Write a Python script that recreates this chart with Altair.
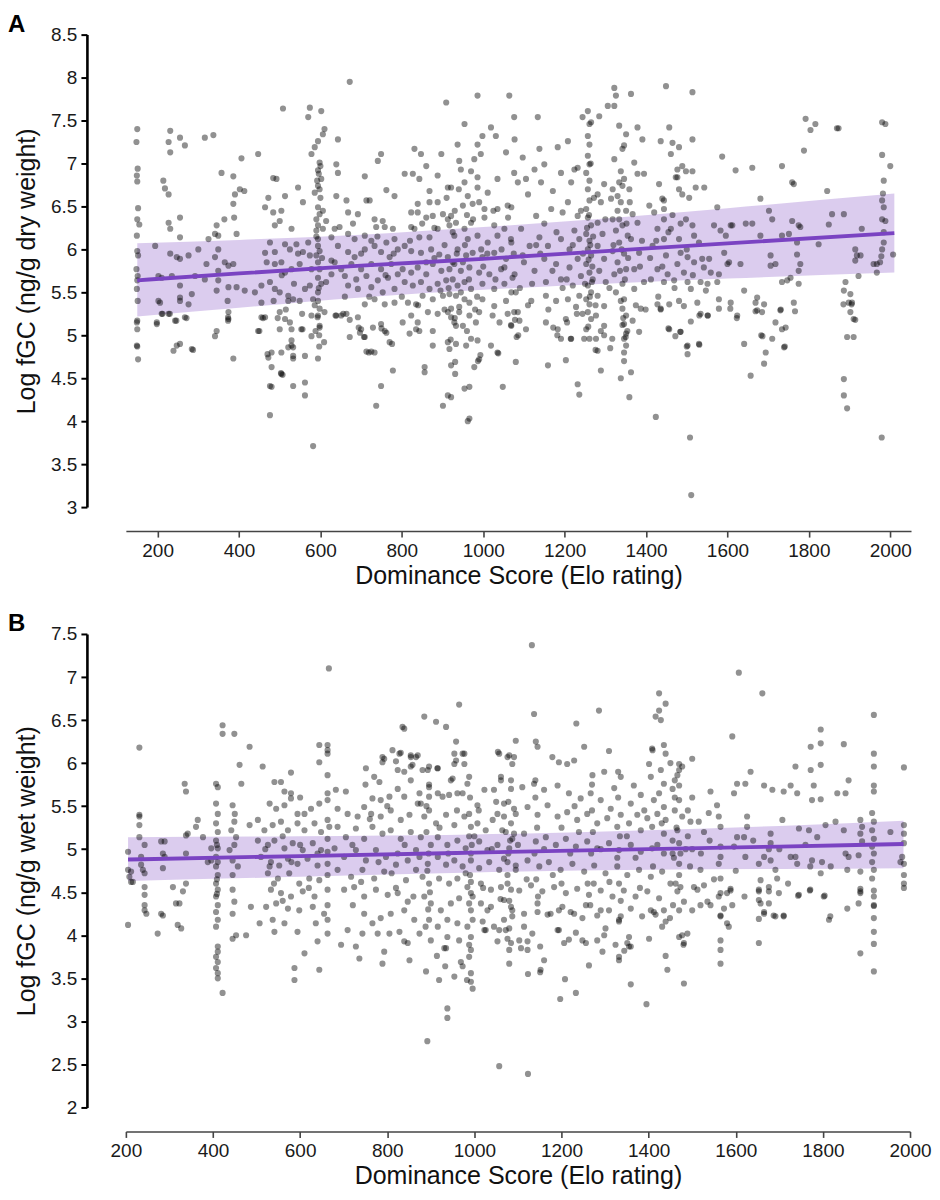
import altair as alt
import pandas as pd

FONT = "Liberation Sans, Arial, sans-serif"
PURPLE = "#7a43c2"

# ---------------- Panel A: dry weight ----------------
panel_a_points = [
    (150,7.40),(148,7.25),(151,6.94),(149,6.86),(150,6.79),(152,6.48),(150,6.35),(155,6.29),(149,6.16),(150,5.98),
    (152,5.93),(148,5.77),(151,5.69),(150,5.64),(149,5.54),(151,5.40),(150,5.17),(149,5.15),(150,5.07),(150,4.87),
    (149,4.88),(152,4.72),
    (194,6.04),(202,5.69),(202,5.40),(206,5.38),(198,5.15),(210,5.25),(214,6.80),(218,6.71),(227,6.64),(231,7.38),
    (227,7.25),(231,7.13),(255,7.30),(267,7.21),(227,6.31),(231,6.24),(255,6.37),(255,6.14),(255,5.89),(247,5.91),
    (235,5.69),(255,5.58),(255,5.44),(255,5.40),(276,5.93),(276,5.36),(284,5.48),(267,5.21),(243,5.17),(231,5.95),
    (227,5.25),(247,4.88),(255,4.90),(284,4.84),(239,4.82),(210,5.67),(198,5.13),(212,5.25),(230,5.25),(246,5.17),
    (271,5.20),(287,4.83),
    (316,7.30),(337,7.33),(357,6.89),(386,6.85),(406,7.06),(402,6.70),(413,6.68),(390,6.64),(386,6.53),(388,6.37),
    (364,6.35),(345,6.28),(341,6.18),(349,6.16),(394,6.18),(325,6.12),(349,6.00),(341,5.91),(365,5.85),(374,5.81),
    (386,5.83),(349,5.75),(349,5.64),(374,5.56),(394,5.56),(372,5.40),(374,5.27),(374,5.19),(414,5.52),(345,5.52),
    (341,4.99),(345,5.05),(386,4.73),(316,5.65),(320,5.83),(292,5.69),(300,6.00),(447,7.11),(439,5.50),(455,5.38),
    (447,5.05),(455,5.21),(464,5.21),(492,6.82),(373,5.21),(373,5.17),(450,5.05),(459,5.20),
    (464,6.49),(472,6.60),(484,6.43),(488,6.28),(504,6.45),(500,6.33),(513,6.62),(545,6.72),(557,6.55),(529,6.24),
    (476,6.08),(464,5.96),(488,5.97),(513,6.06),(541,6.06),(557,5.97),(468,5.85),(488,5.83),(504,5.85),(513,5.73),
    (529,5.77),(549,5.83),(455,5.58),(476,5.62),(488,5.54),(500,5.50),(521,5.46),(521,5.40),(533,5.42),(549,5.40),
    (562,5.54),(500,5.27),(513,5.19),(525,5.15),(529,5.07),(500,5.07),(553,5.07),(529,4.94),(529,4.88),(521,4.86),
    (533,4.76),(504,4.80),(480,4.80),(562,4.76),(472,4.74),(480,4.63),(504,4.55),(476,4.41),(480,4.40),(533,4.41),
    (562,4.45),(562,4.30),(476,4.07),(508,7.64),(484,6.83),(470,4.78),(503,4.56),(507,4.54),(533,4.73),(533,4.86),
    (556,5.07),
    (574,7.65),(602,7.61),(570,7.54),(610,7.40),(606,7.34),(594,7.26),(586,7.19),(578,7.11),(598,7.01),(594,6.92),
    (602,6.82),(594,6.74),(598,6.70),(586,6.66),(594,6.49),(598,6.41),(590,6.35),(594,6.28),(590,6.22),(594,6.12),
    (594,6.04),(598,5.98),(590,5.93),(594,5.85),(598,5.77),(594,5.67),(602,5.60),(594,5.50),(594,5.40),(598,5.31),
    (594,5.23),(598,5.11),(578,4.99),(594,4.73),(606,6.24),(614,6.33),(570,6.08),(574,5.93),(578,5.77),(574,5.58),
    (582,5.42),(578,5.23),(614,5.62),(610,5.27),(627,6.14),(627,5.87),(627,5.71),(582,3.71),(597,4.87),(597,5.00),
    (598,5.09),(593,5.21),(609,4.92),(600,6.97),(596,6.88),
    (643,7.28),(639,6.99),(643,6.89),(639,6.62),(664,6.57),(668,6.43),(709,6.85),(749,7.11),(741,7.03),(713,6.57),
    (721,6.57),(762,6.69),(782,6.62),(692,6.41),(733,6.35),(753,6.33),(737,6.26),(758,6.26),(778,6.24),(647,6.26),
    (668,6.18),(684,6.12),(709,6.16),(725,6.10),(762,6.08),(782,6.12),(643,6.04),(668,5.97),(684,5.91),(709,6.00),
    (733,6.04),(749,5.97),(770,5.91),(790,6.00),(635,5.85),(651,5.77),(676,5.83),(700,5.77),(725,5.83),(749,5.77),
    (774,5.83),(660,5.69),(688,5.65),(713,5.69),(741,5.64),(766,5.67),(790,5.71),(668,5.58),(692,5.54),(725,5.56),
    (753,5.50),(782,5.54),(709,5.36),(733,5.42),(758,5.36),(782,5.38),(639,5.23),(664,5.25),(692,5.21),(700,5.07),
    (729,5.09),(749,5.13),(758,5.05),(770,4.92),(725,4.81),(713,4.81),(672,4.98),(709,4.98),(749,4.41),(737,4.18),
    (778,4.59),(635,6.24),(651,5.23),(672,7.95),(637,5.23),(656,5.25),(672,5.18),(694,5.09),(697,5.03),(707,4.98),
    (719,4.80),(733,4.80),(750,5.08),(762,5.03),(776,4.90),
    (807,6.88),(827,6.88),(831,7.17),(847,7.11),(860,6.97),(843,6.82),(868,6.68),(897,7.11),(909,7.71),(888,6.86),
    (913,6.72),(839,6.53),(823,6.43),(868,6.55),(888,6.55),(839,6.43),(860,6.37),(876,6.39),(901,6.41),(823,6.26),
    (831,6.24),(843,6.14),(868,6.14),(888,6.24),(913,6.35),(917,6.28),(807,6.04),(823,5.98),(847,5.96),(872,6.00),
    (892,5.94),(913,5.91),(802,5.77),(823,5.73),(839,5.79),(860,5.71),(876,5.83),(897,5.75),(917,5.77),(807,5.62),
    (827,5.58),(847,5.62),(868,5.54),(888,5.60),(909,5.64),(815,5.38),(835,5.36),(851,5.46),(876,5.42),(901,5.46),
    (917,5.48),(823,5.23),(839,5.15),(864,5.27),(888,5.25),(913,5.27),(802,5.15),(819,5.02),(843,5.05),(876,4.88),
    (913,4.92),(917,4.84),(856,4.63),(856,4.57),(921,4.65),(913,4.30),(901,4.18),(835,5.07),(876,5.05),(921,4.28),
    (931,4.69),(931,4.55),(954,4.38),(962,4.00),(933,4.90),(958,4.88),(921,5.21),(941,5.33),(933,5.11),(905,6.05),
    (925,5.85),(895,5.52),(930,6.45),(850,6.30),(880,5.90),
    (954,7.46),(986,7.79),(1064,7.79),(1019,7.42),(1031,7.32),(998,7.32),(986,7.22),(937,7.22),(994,7.11),(1056,7.13),
    (978,7.05),(941,7.03),(945,6.93),(970,6.91),(986,6.84),(954,6.78),(986,6.72),(921,6.72),(962,6.62),(974,6.53),
    (950,6.51),(1011,6.66),(1035,6.82),(1076,6.89),(1076,7.54),(1003,6.47),(1035,6.47),(1060,6.51),(921,6.39),(933,6.31),
    (954,6.24),(970,6.31),(1003,6.37),(1027,6.28),(1052,6.24),(929,6.16),(962,6.12),(986,6.16),(1011,6.08),(1035,6.16),
    (1068,6.12),(937,6.00),(958,5.93),(974,5.96),(998,5.91),(1027,5.96),(1056,5.89),(929,5.83),(945,5.75),(966,5.79),
    (990,5.73),(1015,5.71),(1044,5.77),(1072,5.67),(925,5.65),(937,5.58),(954,5.62),(970,5.54),(998,5.60),(1027,5.54),
    (1052,5.60),(1080,5.50),(933,5.46),(954,5.42),(966,5.38),(998,5.42),(1027,5.34),(1056,5.40),(921,5.31),(941,5.27),
    (966,5.23),(990,5.27),(1023,5.23),(1076,5.27),(929,5.15),(950,5.11),(982,5.15),(970,4.96),(986,4.94),(1019,4.88),
    (1035,4.80),(966,4.40),(1048,4.40),(966,4.03),(990,4.72),(978,4.63),(1080,4.69),(993,4.77),(987,4.70),(1037,4.79),
    (1068,5.12),(1078,5.18),(1082,4.98),
    (1134,7.54),(1077,7.28),(1097,7.07),(1138,7.17),(1183,7.19),(1208,7.26),(1150,6.99),(1126,6.93),(1105,6.82),(1085,6.78),
    (1142,6.78),(1191,6.89),(1171,6.68),(1110,6.64),(1069,6.49),(1130,6.39),(1167,6.47),(1195,6.43),(1061,6.37),(1093,6.24),
    (1138,6.14),(1159,6.04),(1191,6.12),(1069,6.08),(1114,6.04),(1097,5.93),(1150,5.89),(1179,5.83),(1052,5.79),(1077,5.71),
    (1126,5.75),(1154,5.62),(1191,5.65),(1069,5.50),(1118,5.40),(1154,5.46),(1179,5.40),(1085,5.27),(1089,5.17),(1105,5.07),
    (1069,5.11),(1154,5.15),(1183,5.07),(1191,4.96),(1159,4.65),(1203,4.71),(1232,4.43),(1236,4.31),(1086,5.00),(1172,5.09),
    (1182,5.00),(1206,5.15),(1215,4.96),
    (1244,7.54),(1257,7.61),(1265,7.48),(1285,7.55),(1261,7.46),(1257,7.32),(1261,7.22),(1257,7.09),(1261,6.99),(1253,6.89),
    (1261,6.80),(1257,6.70),(1261,6.57),(1253,6.47),(1257,6.37),(1265,6.28),(1253,6.18),(1261,6.10),(1257,6.00),(1265,5.93),
    (1253,5.83),(1261,5.73),(1269,5.65),(1257,5.58),(1265,5.50),(1253,5.42),(1261,5.36),(1257,5.27),(1265,5.19),(1253,5.07),
    (1261,4.96),(1277,4.96),(1281,4.82),(1289,4.59),(1224,6.93),(1232,6.95),(1216,6.78),(1208,6.55),(1232,6.39),(1224,6.22),
    (1236,6.12),(1212,6.00),(1232,5.89),(1212,5.79),(1240,5.69),(1220,5.58),(1236,5.46),(1208,5.42),(1228,5.33),(1244,5.25),
    (1203,5.19),(1281,6.64),(1289,6.55),(1297,6.76),(1281,6.31),(1293,6.18),(1281,6.04),(1297,5.89),(1285,5.75),(1301,5.62),
    (1281,5.46),(1297,5.34),(1277,5.23),(1297,5.11),(1289,5.05),(1248,4.96),(1216,4.96),(1276,4.83),(1297,5.00),(1263,6.05),
    (1259,5.88),(1267,5.62),(1255,6.25),
    (1322,7.88),(1326,7.79),(1322,7.67),(1306,7.67),(1363,7.81),(1334,7.44),(1351,7.34),(1346,7.21),(1342,7.17),(1322,7.05),
    (1338,6.91),(1346,6.82),(1334,6.78),(1342,6.74),(1318,6.70),(1359,6.70),(1330,6.62),(1314,6.59),(1338,6.55),(1351,6.45),
    (1334,6.35),(1318,6.35),(1342,6.28),(1326,6.22),(1355,6.16),(1334,6.08),(1318,5.98),(1346,5.95),(1330,5.85),(1351,5.77),
    (1322,5.71),(1342,5.60),(1326,5.50),(1346,5.42),(1342,5.31),(1351,5.23),(1346,5.13),(1351,5.02),(1346,4.96),(1351,4.88),
    (1346,4.80),(1363,4.57),(1338,4.50),(1359,4.28),(1379,7.42),(1371,7.01),(1379,6.88),(1391,7.28),(1367,6.41),(1379,6.31),
    (1363,6.12),(1383,5.96),(1371,5.77),(1395,5.62),(1371,5.54),(1387,5.31),(1367,5.17),(1383,5.04),(1312,4.85),(1317,4.96),
    (1342,5.12),(1346,4.70),(1350,4.98),(1399,5.30),
    (1395,6.88),(1408,6.51),(1420,6.43),(1436,7.26),(1449,7.90),(1457,7.42),(1432,6.76),(1461,7.11),(1465,7.24),(1481,7.19),
    (1514,7.83),(1514,7.28),(1477,6.93),(1489,6.97),(1498,6.91),(1514,6.91),(1477,6.84),(1444,6.57),(1440,6.59),(1444,6.47),
    (1481,6.70),(1489,6.64),(1506,6.60),(1522,6.72),(1543,6.72),(1498,6.35),(1514,6.28),(1444,6.35),(1428,6.24),(1461,6.24),
    (1481,6.12),(1444,6.12),(1416,6.04),(1518,6.16),(1530,6.08),(1502,5.91),(1485,5.96),(1477,5.83),(1449,5.93),(1428,5.77),
    (1453,5.71),(1493,5.73),(1518,5.85),(1538,5.89),(1555,5.89),(1542,5.79),(1412,5.65),(1444,5.62),(1469,5.64),(1502,5.62),
    (1534,5.62),(1510,5.54),(1551,5.60),(1428,5.36),(1436,5.31),(1457,5.36),(1481,5.40),(1493,5.34),(1526,5.38),(1547,5.52),
    (1534,5.25),(1551,5.23),(1457,5.07),(1485,5.04),(1502,4.88),(1502,4.78),(1530,4.90),(1424,4.05),(1473,6.84),(1508,3.81),
    (1511,3.14),(1436,5.30),(1455,5.08),(1472,4.99),(1484,5.04),(1500,4.87),(1510,5.16),(1531,5.23),(1552,5.23),(1531,4.89),
    (1575,6.49),(1587,7.08),(1620,6.92),(1661,6.95),(1681,6.59),(1734,6.97),(1759,6.78),(1763,6.76),(1788,7.15),(1792,7.52),
    (1816,7.46),(1804,7.39),(1869,7.41),(1873,7.41),(1845,6.68),(1886,6.41),(1857,6.41),(1849,6.29),(1824,6.06),(1775,6.28),
    (1779,6.26),(1759,6.33),(1751,6.18),(1734,6.16),(1771,6.08),(1771,5.94),(1779,5.83),(1775,5.75),(1755,5.67),(1747,5.64),
    (1734,5.62),(1718,5.83),(1706,5.81),(1706,5.93),(1710,6.35),(1702,6.45),(1681,6.16),(1661,6.30),(1645,6.30),(1608,6.28),
    (1612,6.28),(1596,6.16),(1583,6.22),(1567,6.28),(1592,5.96),(1600,5.83),(1604,5.85),(1632,5.83),(1579,5.71),(1559,5.73),
    (1575,5.62),(1579,5.42),(1608,5.38),(1624,5.23),(1641,5.52),(1673,5.44),(1690,5.36),(1673,5.29),(1669,5.38),(1730,5.29),
    (1718,5.15),(1734,5.07),(1763,5.38),(1775,5.60),(1686,4.99),(1694,4.80),(1690,4.67),(1710,4.96),(1739,4.86),(1641,4.90),
    (1657,4.53),(1579,5.31),(1607,5.31),(1623,5.20),(1669,5.28),(1685,5.27),(1683,5.00),(1731,5.30),(1743,5.09),(1741,4.87),
    (1766,5.28),
    (1980,7.48),(1988,7.46),(1980,7.10),(2000,6.97),(1984,6.80),(1980,6.57),(1984,6.49),(1980,6.35),(1988,6.33),(1984,6.08),
    (1980,6.00),(2007,5.94),(1967,5.83),(1975,5.85),(1967,5.73),(1914,6.00),(1930,6.24),(1918,5.93),(1927,5.93),(1914,5.87),
    (1922,5.69),(1959,5.83),(1890,5.62),(1886,5.52),(1902,5.48),(1906,5.38),(1898,5.38),(1902,5.27),(1910,5.19),(1894,4.98),
    (1910,4.98),(1886,4.49),(1886,4.30),(1894,4.15),(1885,5.36),(1905,5.36),(1914,5.18),(1979,3.81),(1984,6.20),(1982,6.65),
    (1978,5.92),
    # denser core (overlapping dots read in the crowded columns)
    (905,5.30),(915,5.55),(925,6.20),(935,5.95),(945,5.50),(955,6.05),(965,5.65),(975,6.35),(985,5.45),(995,6.00),
    (910,6.60),(930,5.20),(950,5.85),(960,6.40),(980,5.30),(1000,5.80),(940,6.70),(920,4.95),(960,5.05),(990,6.55),
    (1260,6.40),(1268,5.80),(1262,5.45),(1270,6.15),(1258,5.10),(1272,6.60),(1250,5.60),(1276,5.35),(1264,7.00),(1245,5.95),
    (1340,6.00),(1348,5.65),(1352,6.30),(1338,5.40),(1356,5.90),(1330,6.45),(1344,5.20),(1360,6.55),(1336,5.75),(1354,5.05),
    (590,6.15),(596,5.55),(600,6.60),(588,5.05),(604,5.90),(592,6.80),(586,5.35),(606,6.45),
    (495,5.20),(515,5.30),(535,5.60),(545,5.95),(505,5.70),(525,6.00),(485,5.40),(555,5.25),
    (1410,5.90),(1425,6.10),(1440,5.80),(1455,6.20),(1470,5.55),(1485,6.30),(1500,6.00),(1515,5.70),(1430,5.45),(1465,6.40),
    (1120,5.60),(1140,5.95),(1160,5.30),(1180,6.20),(1100,5.85),(1130,6.05),(1170,5.75),(1195,5.55),(1110,5.35),(1150,6.30),
    (700,5.95),(720,5.45),(740,6.15),(760,5.70),(780,5.95),(800,5.45),(820,6.10),(840,5.35),(860,5.85),(880,6.25),
    (660,5.45),(680,6.30),(1030,5.65),(1045,6.00),(1060,5.25),(1075,5.95),(1090,5.55),(1010,5.95),(1025,6.45),(1040,5.15),
    (1310,5.55),(1320,6.05),(1300,6.35),(1385,5.80),(1390,6.10),(1375,5.35),(1220,6.05),(1205,5.65),(1230,5.25),(1240,6.45),
]
a_fit_elo = [150, 400, 700, 1000, 1300, 1600, 2010]
a_fit_mid = [5.64, 5.72, 5.81, 5.89, 5.98, 6.07, 6.19]
a_fit_lo = [5.22, 5.32, 5.44, 5.53, 5.60, 5.66, 5.73]
a_fit_hi = [6.07, 6.11, 6.17, 6.26, 6.36, 6.48, 6.65]
a_y_ticks = [3, 3.5, 4, 4.5, 5, 5.5, 6, 6.5, 7, 7.5, 8, 8.5]

# ---------------- Panel B: wet weight ----------------
panel_b_points = [
    (205,4.76),(208,4.68),(212,4.62),(205,4.12),(231,6.18),(231,5.40),(231,5.28),(231,5.14),(243,5.05),(235,4.91),
    (235,4.82),(243,4.72),(243,4.56),(243,4.47),(243,4.35),(243,4.29),(247,4.25),(239,4.76),(205,4.97),(212,4.74),
    (216,4.62),(231,5.38),
    (281,4.25),(285,4.23),(273,4.02),(289,5.09),(289,4.91),(285,4.78),(308,4.56),(315,4.37),(323,4.37),(319,4.12),
    (327,4.08),(335,5.76),(338,5.67),(338,4.95),(338,4.60),(365,5.34),(361,5.26),(342,5.18),(396,5.01),(388,4.85),
    (377,5.14),(281,5.09),(285,4.95),(331,4.51),(338,5.16),(396,4.87),
    (422,6.44),(422,6.34),(449,6.34),(407,5.76),(411,5.72),(407,5.53),(411,5.41),(407,5.30),(411,5.20),(407,5.10),
    (411,5.01),(407,4.91),(411,4.85),(407,4.80),(411,4.70),(407,4.60),(411,4.53),(407,4.45),(411,4.35),(407,4.27),
    (411,4.18),(407,4.10),(411,3.87),(411,3.81),(407,3.75),(411,3.69),(407,3.62),(411,3.56),(411,3.50),(422,3.33),
    (445,5.51),(450,5.41),(449,5.32),(442,5.22),(453,5.14),(449,5.05),(438,4.99),(445,4.87),(457,4.80),(445,4.70),
    (445,4.53),(449,4.39),(445,4.25),(453,4.00),(445,3.96),(461,5.98),(484,6.19),(465,5.76),(476,4.00),(487,4.33),
    (484,5.28),(409,4.48),(409,5.05),(409,4.65),
    (514,5.96),(541,5.78),(556,5.78),(564,5.67),(579,5.65),(579,5.89),(530,5.53),(545,5.47),(564,5.51),(579,5.59),
    (594,5.41),(610,5.41),(625,5.47),(644,5.53),(644,6.21),(644,6.01),(663,6.21),(663,6.15),(663,5.86),(663,5.65),
    (663,5.57),(663,5.34),(667,5.26),(663,5.12),(663,4.97),(663,4.83),(663,4.70),(663,4.53),(663,4.35),(663,4.18),
    (663,4.02),(644,3.60),(503,5.34),(518,5.22),(537,5.28),(556,5.32),(572,5.22),(594,5.30),(610,5.22),(633,5.30),
    (648,5.20),(503,5.10),(526,5.05),(541,5.10),(564,5.01),(583,5.07),(606,4.99),(629,5.07),(648,4.99),(510,4.91),
    (533,4.85),(552,4.81),(572,4.89),(594,4.83),(617,4.89),(640,4.81),(526,4.72),(549,4.66),(575,4.72),(598,4.60),
    (621,4.66),(644,4.64),(533,4.53),(556,4.49),(579,4.45),(606,4.51),(633,4.45),(545,4.37),(572,4.31),(598,4.29),
    (629,4.33),(655,4.25),(537,4.18),(564,4.14),(594,4.04),(636,4.14),(640,3.93),(541,4.04),(587,3.62),(587,3.48),
    (610,3.79),(507,4.14),(522,4.33),(666,7.10),(663,6.11),
    (682,5.69),(705,5.67),(686,5.47),(709,5.41),(732,5.38),(751,5.94),(770,5.84),(782,5.78),(789,6.07),(789,6.01),
    (812,6.15),(828,6.11),(835,6.42),(839,6.40),(854,6.09),(870,6.09),(824,5.92),(839,5.90),(858,5.98),(854,5.80),
    (839,5.61),(824,5.70),(805,5.61),(785,5.57),(766,5.59),(747,5.49),(763,5.41),(785,5.38),(808,5.45),(831,5.34),
    (851,5.40),(870,5.53),(686,5.26),(705,5.14),(728,5.24),(747,5.12),(766,5.26),(789,5.18),(808,5.22),(831,5.12),
    (854,5.20),(679,5.01),(701,4.91),(728,4.99),(751,4.87),(774,4.99),(797,4.91),(824,4.95),(847,4.87),(866,4.99),
    (686,4.76),(717,4.68),(743,4.76),(770,4.66),(793,4.74),(820,4.82),(843,4.64),(866,4.76),(701,4.53),(724,4.56),
    (747,4.45),(774,4.53),(801,4.47),(824,4.49),(847,4.39),(721,4.35),(747,4.25),(766,4.14),(785,4.20),(808,4.25),
    (839,4.29),(862,4.18),(709,4.06),(743,4.02),(778,4.02),(805,4.02),(828,4.04),(847,3.91),(736,3.73),(789,3.67),
    (851,3.71),(793,3.81),(839,3.93),(820,6.02),(831,6.12),(854,6.07),(866,6.07),(793,6.05),(854,5.96),(694,3.89),
    (728,3.87),
    (885,6.54),(912,6.48),(935,6.42),(965,6.68),(958,6.25),(977,6.11),(954,5.99),(977,5.99),(946,5.80),(916,5.94),
    (893,5.92),(896,5.72),(874,5.65),(877,5.53),(896,5.61),(916,5.65),(927,5.61),(942,5.63),(961,5.65),(973,5.65),
    (988,5.84),(984,5.76),(1007,5.51),(1023,5.69),(1045,5.69),(1057,6.11),(1076,6.07),(1091,6.07),(1061,5.80),(1084,5.80),
    (1053,5.41),(1068,5.38),(1091,5.47),(885,5.38),(896,5.45),(912,5.30),(935,5.40),(954,5.28),(977,5.38),(988,5.41),
    (992,5.26),(1007,5.30),(1026,5.22),(1042,5.34),(1072,5.20),(1091,5.18),(877,5.14),(900,5.05),(916,5.14),(938,5.05),
    (961,5.10),(980,5.01),(992,4.95),(1011,5.09),(1030,4.99),(1053,5.05),(1080,5.01),(874,4.91),(893,4.83),(916,4.91),
    (935,4.82),(954,4.87),(973,4.80),(992,4.87),(1011,4.78),(1034,4.85),(1057,4.76),(1076,4.85),(1095,4.76),(881,4.68),
    (896,4.60),(919,4.66),(942,4.60),(961,4.66),(984,4.56),(992,4.49),(1015,4.60),(1038,4.53),(1061,4.56),(1084,4.53),
    (885,4.45),(900,4.37),(923,4.29),(946,4.37),(965,4.43),(988,4.37),(992,4.29),(996,4.18),(1015,4.37),(1038,4.33),
    (1068,4.41),(1087,4.29),(896,4.18),(916,4.10),(938,4.18),(961,4.14),(984,4.10),(1023,4.06),(1045,4.10),(1068,4.18),
    (874,4.02),(900,3.94),(935,3.85),(965,3.94),(988,3.89),(992,3.83),(1053,3.93),(1076,3.96),(1080,3.67),(889,3.58),
    (919,3.48),(954,3.52),(992,3.46),(996,3.38),(892,2.77),(938,3.15),(938,3.04),(914,3.76),(933,3.64),(931,3.85),
    (938,3.98),(969,3.69),(973,3.64),(983,3.48),(958,6.03),(973,6.11),(954,6.11),(950,5.82),(881,5.92),(896,5.96),
    (915,5.94),(1054,6.13),(992,3.56),(988,3.75),(992,3.98),(1019,4.16),(1030,4.29),(1026,4.06),(1057,4.06),(1084,3.91),
    (1080,4.08),(1087,4.22),(1057,2.48),
    (1095,6.26),(1141,6.25),(1145,6.19),(1080,6.09),(1087,5.99),(1179,6.07),(1194,6.01),(1213,5.99),(1229,6.03),(1252,6.19),
    (1271,5.86),(1309,6.14),(1298,5.90),(1321,5.71),(1336,5.84),(1366,5.74),(1401,5.99),(1408,6.17),(1435,6.21),(1439,6.11),
    (1428,5.92),(1405,5.84),(1435,5.76),(1382,5.63),(1412,5.57),(1435,5.49),(1424,5.65),(1061,5.84),(1084,5.70),(1110,5.72),
    (1137,5.76),(1160,5.69),(1191,5.74),(1217,5.65),(1244,5.59),(1267,5.65),(1290,5.57),(1313,5.47),(1336,5.40),(1359,5.53),
    (1374,5.40),(1397,5.36),(1420,5.41),(1439,5.34),(1068,5.53),(1095,5.41),(1122,5.49),(1145,5.40),(1168,5.51),(1191,5.38),
    (1213,5.43),(1236,5.34),(1259,5.41),(1282,5.30),(1305,5.36),(1328,5.26),(1355,5.30),(1382,5.22),(1408,5.26),(1435,5.18),
    (1064,5.22),(1087,5.12),(1114,5.18),(1141,5.09),(1164,5.14),(1187,5.05),(1210,5.12),(1233,5.03),(1259,5.09),(1282,5.01),
    (1309,5.07),(1332,4.99),(1359,5.05),(1382,4.97),(1408,5.01),(1435,4.95),(1068,4.89),(1095,4.81),(1122,4.87),(1149,4.80),
    (1171,4.85),(1198,4.76),(1225,4.83),(1252,4.74),(1275,4.81),(1301,4.72),(1328,4.80),(1351,4.70),(1378,4.76),(1405,4.68),
    (1431,4.74),(1076,4.60),(1103,4.52),(1130,4.58),(1156,4.51),(1183,4.56),(1210,4.49),(1236,4.54),(1263,4.47),(1290,4.52),
    (1317,4.45),(1343,4.52),(1370,4.45),(1397,4.51),(1424,4.43),(1084,4.33),(1114,4.25),(1145,4.37),(1175,4.25),(1202,4.33),
    (1229,4.25),(1256,4.35),(1282,4.23),(1309,4.29),(1332,4.18),(1359,4.31),(1385,4.22),(1412,4.27),(1439,4.16),(1072,4.06),
    (1103,3.94),(1133,4.02),(1194,4.06),(1248,3.94),(1298,4.00),(1351,3.91),(1401,3.96),(1359,3.87),(1080,3.83),(1160,3.71),
    (1263,3.65),(1332,3.75),(1123,2.39),(1197,3.26),(1233,3.33),(1208,3.49),(1395,3.20),(1359,3.43),(1355,3.98),(1344,3.82),
    (1355,3.87),(1332,4.16),(1336,4.22),(1324,3.89),(1332,3.71),(1301,4.08),(1290,4.29),(1294,3.81),(1282,3.94),(1256,3.91),
    (1248,4.20),(1233,4.03),(1217,3.95),(1206,3.91),(1221,4.27),(1194,4.29),(1191,4.06),(1168,4.24),(1151,3.57),(1151,3.87),
    (1145,4.27),(1123,3.55),(1122,3.83),(1107,3.85),(1114,4.10),(1122,3.93),(1416,4.24),(1405,4.29),(1431,4.10),(1435,4.29),
    (1449,4.20),(1137,6.57),(1286,6.61),(1234,6.46),(1424,6.81),(1439,6.69),(1424,6.61),(1416,6.54),(1428,6.50),(1409,6.15),
    (1152,3.60),(1443,3.60),(1439,3.76),(1132,7.37),
    (1470,5.99),(1470,5.92),(1466,5.86),(1477,5.96),(1470,5.74),(1470,5.57),(1477,5.38),(1466,5.22),(1470,5.07),(1473,4.95),
    (1470,4.83),(1470,4.70),(1473,4.56),(1470,4.29),(1477,4.00),(1481,3.91),(1481,3.44),(1542,5.67),(1557,5.51),(1538,5.42),
    (1515,5.32),(1496,5.32),(1527,5.20),(1561,5.38),(1565,5.26),(1565,5.03),(1565,4.91),(1561,4.83),(1565,4.66),(1561,4.45),
    (1565,4.23),(1565,3.94),(1565,3.83),(1565,3.67),(1580,4.49),(1588,4.54),(1592,4.35),(1580,4.14),(1542,4.35),(1535,4.39),
    (1519,4.76),(1512,4.53),(1527,4.58),(1504,4.56),(1592,6.31),(1607,7.05),(1466,4.51),(1481,4.39),(1489,4.02),(1480,3.89),
    (1470,3.98),(1500,4.29),(1519,4.35),(1565,4.49),(1588,4.52),(1573,4.31),(1584,4.10),(1565,4.22),(1455,5.10),(1490,5.15),
    (1500,5.60),(1455,5.70),(1460,5.45),(1485,5.00),(1495,4.80),(1455,4.95),(1490,5.45),(1450,6.00),(1500,6.05),
    (1603,5.14),(1619,5.14),(1626,5.26),(1626,5.38),(1596,5.03),(1622,4.91),(1653,4.83),(1665,4.91),(1680,5.18),(1680,5.07),
    (1676,5.00),(1680,4.87),(1691,4.76),(1695,4.66),(1676,4.56),(1653,4.53),(1653,4.41),(1657,4.37),(1665,4.27),(1687,4.23),
    (1710,4.23),(1653,3.91),(1657,4.64),(1726,4.91),(1745,5.24),(1768,5.22),(1787,5.14),(1806,5.28),(1829,5.32),(1848,5.22),
    (1852,4.95),(1859,4.91),(1741,4.83),(1771,4.80),(1798,4.85),(1818,4.80),(1795,4.72),(1771,4.53),(1745,4.47),(1802,4.45),
    (1856,4.31),(1814,4.18),(1856,4.76),(1775,4.87),(1726,5.74),(1707,5.34),(1737,4.91),(1661,6.81),(1795,6.39),(1772,6.19),
    (1795,6.23),(1848,6.22),(1795,5.98),(1772,5.92),(1737,5.96),(1859,5.80),(1833,5.65),(1852,5.65),(1795,5.58),(1775,5.57),
    (1779,5.74),(1741,5.65),(1710,5.67),(1684,5.69),(1665,5.74),(1634,5.90),(1622,5.76),(1603,5.76),(1596,5.65),(1676,4.37),
    (1665,4.25),(1653,4.19),(1699,4.49),(1676,4.51),(1653,4.51),(1710,4.22),(1691,4.22),(1743,4.46),(1770,4.52),(1804,4.46),
    (1817,4.22),
    (1917,6.56),(1917,6.11),(1917,5.96),(1917,5.74),(1917,5.67),(1886,5.34),(1890,5.26),(1886,5.18),(1890,5.09),(1882,4.93),
    (1886,4.74),(1886,4.54),(1886,4.51),(1882,4.37),(1913,5.42),(1917,5.32),(1913,5.22),(1917,5.12),(1913,5.03),(1917,4.95),
    (1913,4.85),(1917,4.76),(1913,4.66),(1917,4.52),(1917,4.35),(1917,4.20),(1917,4.04),(1917,3.90),(1917,3.58),(1886,3.79),
    (1955,5.20),(1986,5.28),(1986,5.18),(1986,5.07),(1982,4.91),(1986,4.83),(1986,4.70),(1986,4.60),(1978,4.85),(1986,5.95),
    (1986,4.55),(1917,4.45),(1886,4.49),(1917,4.34),
    # denser core (overlapping dots read in the crowded columns)
    (890,5.20),(895,4.95),(892,4.75),(898,4.50),(890,5.50),(894,4.30),(896,5.75),(888,4.10),
    (990,5.60),(994,5.05),(990,4.70),(996,4.45),(988,5.15),(992,4.62),
    (1078,5.55),(1082,5.10),(1076,4.70),(1080,4.40),(1084,5.30),(1078,4.95),
    (1140,5.60),(1144,5.25),(1138,4.95),(1142,4.65),(1146,4.45),(1140,5.80),
    (1270,5.75),(1272,5.20),(1268,4.95),(1274,4.60),(1266,4.35),(1270,5.45),
    (1330,5.60),(1334,5.15),(1328,4.90),(1332,4.60),(1336,4.40),(1330,5.90),
    (1460,5.60),(1464,5.25),(1458,4.90),(1462,4.60),(1456,4.35),(1460,5.80),
    (720,5.05),(740,4.62),(760,5.35),(780,4.85),(800,5.50),(820,4.55),(840,5.05),(860,4.45),(750,5.75),(810,4.72),
    (920,5.25),(940,4.95),(960,5.45),(980,4.72),(1000,5.15),(1020,4.55),(1040,5.00),(1060,4.42),(1010,5.45),(1050,5.55),
    (1100,5.05),(1120,4.65),(1160,5.00),(1180,4.70),(1200,5.25),(1220,4.95),(1240,5.20),(1260,4.60),(1200,4.60),(1230,5.50),
    (1290,5.00),(1310,4.62),(1350,5.15),(1370,4.90),(1390,5.45),(1410,4.80),(1430,5.30),(1450,4.60),(1380,4.55),(1420,5.05),
    (520,5.00),(540,4.60),(560,5.15),(580,4.85),(600,5.05),(620,4.55),(640,4.95),(560,4.40),(600,5.60),(530,4.80),
    (1500,5.00),(1520,4.95),(1540,5.10),(1550,4.65),(1600,4.75),(1620,4.45),(1640,5.10),(1700,5.00),(1720,4.60),(1760,5.05),
]
b_fit_elo = [205, 600, 1000, 1400, 1700, 1985]
b_fit_mid = [4.88, 4.92, 4.96, 5.00, 5.03, 5.06]
b_fit_lo = [4.63, 4.68, 4.73, 4.76, 4.77, 4.78]
b_fit_hi = [5.14, 5.15, 5.17, 5.22, 5.27, 5.33]
b_y_ticks = [2, 2.5, 3, 3.5, 4, 4.5, 5, 5.5, 6, 6.5, 7, 7.5]

x_ticks = [200, 400, 600, 800, 1000, 1200, 1400, 1600, 1800, 2000]
x_title = "Dominance Score (Elo rating)"


def panel(points, fit_x, fit_mid, fit_lo, fit_hi, x_domain, y_domain, y_ticks, y_title, letter, w, h):
    pts = pd.DataFrame(points, columns=["elo", "fgc"])
    fit = pd.DataFrame({"elo": fit_x, "mid": fit_mid, "lo": fit_lo, "hi": fit_hi})
    xs = alt.Scale(domain=x_domain, nice=False, zero=False)
    ys = alt.Scale(domain=y_domain, nice=False, zero=False)
    x_axis = alt.Axis(values=x_ticks, format="d", offset=24, grid=False, labelFlush=False)
    y_axis = alt.Axis(values=y_ticks, format="~g", offset=39, grid=False, labelFlush=False)

    def X(f):
        return alt.X(f"{f}:Q", scale=xs, axis=x_axis, title=x_title)

    def Y(f):
        return alt.Y(f"{f}:Q", scale=ys, axis=y_axis, title=y_title)

    band = alt.Chart(fit).mark_area(color=PURPLE, opacity=0.27, interpolate="monotone").encode(
        x=X("elo"), y=Y("lo"), y2="hi:Q")
    dots = alt.Chart(pts).mark_circle(color="black", opacity=0.43, size=38).encode(
        x=X("elo"), y=Y("fgc"))
    line = alt.Chart(fit).mark_line(color=PURPLE, strokeWidth=3.8, interpolate="monotone").encode(
        x=X("elo"), y=Y("mid"))
    tag = alt.Chart(pd.DataFrame({"t": [letter]})).mark_text(
        align="left", baseline="alphabetic", fontSize=24, fontWeight="bold", font=FONT, color="black"
    ).encode(text="t:N", x=alt.value(-118), y=alt.value(-3))
    return alt.layer(band, dots, line, tag).properties(width=w, height=h)


chart_a = panel(panel_a_points, a_fit_elo, a_fit_mid, a_fit_lo, a_fit_hi, [122, 2051], [3, 8.5],
                a_y_ticks, "Log fGC (ng/g dry weight)", "A", 786, 473)
chart_b = panel(panel_b_points, b_fit_elo, b_fit_mid, b_fit_lo, b_fit_hi, [200, 2000], [2, 7.5],
                b_y_ticks, "Log fGC (ng/g wet weight)", "B", 785, 474)

chart = (
    alt.vconcat(chart_a, chart_b, spacing=24)
    .properties(padding={"left": 0, "top": 4, "right": 0, "bottom": 5})
    .configure_view(stroke=None)
    .configure_axis(labelFont=FONT, titleFont=FONT, labelFontSize=19, titleFontSize=25,
                    titleFontWeight="normal", labelColor="#1a1a1a", titleColor="#111111", tickSize=6)
    .configure_axisY(domainColor="black", domainWidth=2.6, tickColor="black", tickWidth=2,
                     labelPadding=4, titlePadding=11)
    .configure_axisX(domainColor="#444444", domainWidth=1.6, tickColor="#444444", tickWidth=1.6,
                     labelPadding=4, titlePadding=3)
)

chart.save("out.html", embed_options={"renderer": "svg", "actions": False})
